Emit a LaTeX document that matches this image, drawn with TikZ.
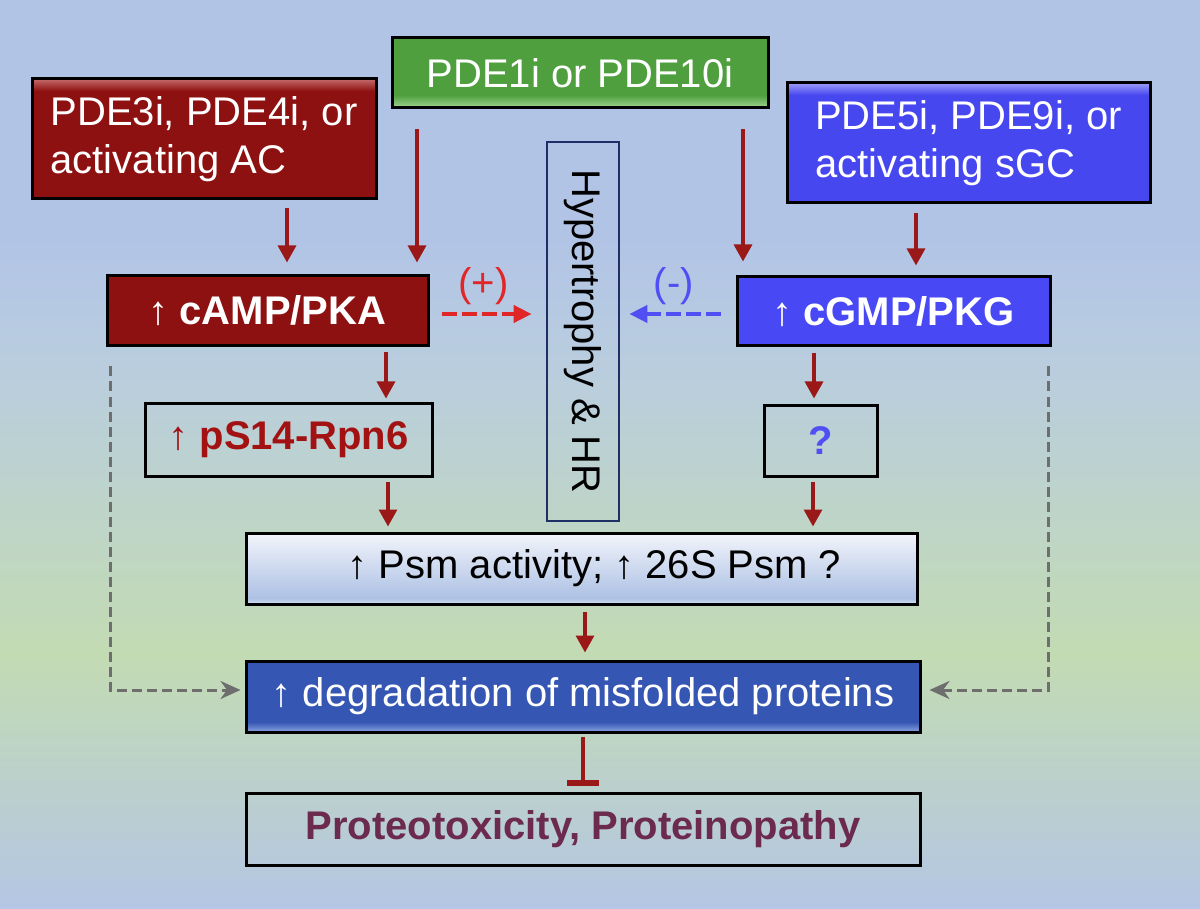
\documentclass[tikz,border=0pt]{standalone}
\usepackage{fontspec}
\usepackage{graphicx}
\setmainfont{Liberation Sans}
\usetikzlibrary{arrows.meta,positioning}

\definecolor{bgtop}{HTML}{B2C4E6}
\definecolor{bgmid}{HTML}{B9CDDF}
\definecolor{bggreen}{HTML}{C3DBB3}
\definecolor{bgbot}{HTML}{B4C6E4}
\definecolor{drugred}{HTML}{8E1111}
\definecolor{drugredhi}{HTML}{C46A6A}
\definecolor{druggreen}{HTML}{4F9F3F}
\definecolor{druggreenhi}{HTML}{A6D696}
\definecolor{drugblue}{HTML}{4747F0}
\definecolor{drugbluehi}{HTML}{9C9CF9}
\definecolor{pkgblue}{HTML}{4848F4}
\definecolor{arrred}{HTML}{9A1818}
\definecolor{plusred}{HTML}{E02626}
\definecolor{minusblue}{HTML}{4F4FF4}
\definecolor{psmtop}{HTML}{F2F4FB}
\definecolor{psmbot}{HTML}{ADC1E4}
\definecolor{psmedge}{HTML}{D6E1F1}
\definecolor{degblue}{HTML}{3556B3}
\definecolor{degbluehi}{HTML}{8AA3E1}
\definecolor{hypnavy}{HTML}{1F2F66}
\definecolor{protpurple}{HTML}{6B2A4E}
\definecolor{dashgray}{HTML}{6E6E6E}
\definecolor{rpnred}{HTML}{A31212}

\pgfdeclareverticalshading{bgshade}{100bp}{color(0bp)=(bgbot); color(25bp)=(bgbot); color(39bp)=(bggreen); color(55bp)=(bgmid); color(62bp)=(bgtop); color(100bp)=(bgtop)}
\pgfdeclareverticalshading{redgloss}{100bp}{color(0bp)=(drugred); color(70bp)=(drugred); color(75bp)=(drugredhi); color(100bp)=(drugredhi)}
\pgfdeclareverticalshading{bluegloss}{100bp}{color(0bp)=(drugblue); color(70bp)=(drugblue); color(75bp)=(drugbluehi); color(100bp)=(drugbluehi)}
\pgfdeclareverticalshading{greengloss}{100bp}{color(0bp)=(druggreenhi); color(25bp)=(druggreenhi); color(34bp)=(druggreen); color(100bp)=(druggreen)}
\pgfdeclareverticalshading{psmshade}{100bp}{color(0bp)=(psmedge); color(25bp)=(psmedge); color(29bp)=(psmbot); color(75bp)=(psmtop); color(100bp)=(psmtop)}
\pgfdeclareverticalshading{degshade}{100bp}{color(0bp)=(degbluehi); color(25bp)=(degbluehi); color(32bp)=(degblue); color(100bp)=(degblue)}

\tikzstyle{box}=[draw=black, line width=1.5pt, inner sep=0pt, font=\fontsize{20}{24}\selectfont]
\tikzstyle{boldbox}=[box, font=\fontsize{20}{24}\selectfont\bfseries]
\tikzstyle{drug}=[box, text=white, align=left]
\tikzstyle{hypbox}=[draw=hypnavy, line width=1.4pt, inner sep=0pt, font=\fontsize{20}{24}\selectfont]
\tikzset{%
    arr/.style={draw=arrred, line width=1.6pt, -{Triangle[length=8.5pt,width=9pt]}},
    plusarr/.style={draw=plusred, line width=2pt, dash pattern=on 7.5pt off 2.5pt, -{Triangle[length=9pt,width=8.5pt]}},
    minusarr/.style={plusarr, draw=minusblue},
    grayarr/.style={draw=dashgray, line width=1.5pt, dash pattern=on 5pt off 2.5pt, -{Stealth[length=10pt,width=9pt]}},
    inhib/.style={draw=arrred, line width=1.6pt, -{Bar[width=16pt,line width=3pt]}},
    sign/.style={inner sep=0pt, font=\fontsize{20}{24}\selectfont},
  }

\begin{document}
\begin{tikzpicture}[x=0.5pt, y=-0.5pt]
    \shade[shading=bgshade] (0,0) rectangle (1200,909);
    \useasboundingbox (0,0) rectangle (1200,909);
    % drugs
    \node (pde34) [drug, shading=redgloss, minimum width=172pt, minimum height=60pt] at (204,139) {PDE3i, PDE4i, or\\activating AC};
    \node (pde110) [drug, shading=greengloss, minimum width=188pt, minimum height=35pt, align=center] at (580,73) {PDE1i or PDE10i};
    \node (pde59) [drug, shading=bluegloss, minimum width=181.5pt, minimum height=60pt] at (968.5,143) {PDE5i, PDE9i, or\\activating sGC};
    %
    \node (camp) [boldbox, fill=drugred, text=white, minimum width=160.5pt, minimum height=35pt] at (267.5,311) {↑ cAMP/PKA};
    \node (cgmp) [boldbox, fill=pkgblue, text=white, minimum width=156.5pt, minimum height=34.5pt] at (893.5,311.5) {↑ cGMP/PKG};
    \node (hyp) [hypbox, minimum width=36pt, minimum height=189.5pt] at (583,331.5) {\rotatebox{-90}{Hypertrophy \& HR}};
    \node (rpn6) [boldbox, text=rpnred, minimum width=143.5pt, minimum height=36.5pt] at (288.5,439.5) {↑ pS14-Rpn6};
    \node (unk) [boldbox, text=minusblue, minimum width=56.5pt, minimum height=35.5pt] at (820.5,440.5) {?};
    \node (psm) [box, shading=psmshade, minimum width=335.5pt, minimum height=35.5pt] at (581.5,568.5) {\hspace*{13pt}↑ Psm activity; ↑ 26S Psm ?};
    \node (deg) [box, shading=degshade, text=white, minimum width=337pt, minimum height=35.5pt] at (583,696.5) {↑ degradation of misfolded proteins};
    \node (prot) [boldbox, text=protpurple, minimum width=337pt, minimum height=36pt] at (583,829) {Proteotoxicity, Proteinopathy};

    % arrows
    \draw [arr, shorten <=4pt, shorten >=6pt] ([xshift=41.5pt]pde34.south) -- ([xshift=9.75pt]camp.north);
    \draw [arr, shorten <=10pt, shorten >=6pt] ([xshift=-81.5pt]pde110.south) -- ([xshift=74.75pt]camp.north);
    \draw [arr, shorten <=10pt, shorten >=7pt] ([xshift=81.5pt]pde110.south) -- ([xshift=-75.25pt]cgmp.north);
    \draw [arr, shorten <=4.5pt, shorten >=5pt] ([xshift=-26.25pt]pde59.south) -- ([xshift=11.25pt]cgmp.north);
    \draw [arr, shorten <=2.5pt, shorten >=1.5pt] ([xshift=59.25pt]camp.south) -- ([xshift=48.75pt]rpn6.north);
    \draw [arr, shorten <=2pt, shorten >=2.5pt] ([xshift=49.75pt]rpn6.south) -- ([xshift=-96.75pt]psm.north);
    \draw [arr, shorten <=3pt, shorten >=2.5pt] ([xshift=-39.75pt]cgmp.south) -- ([xshift=-3.25pt]unk.north);
    \draw [arr, shorten <=2pt, shorten >=2.5pt] ([xshift=-3.75pt]unk.south) -- ([xshift=115.75pt]psm.north);
    \draw [arr, shorten <=3pt, shorten >=3.5pt] ([xshift=1.75pt]psm.south) -- ([xshift=1pt]deg.north);
    \draw [inhib, shorten <=1.5pt, shorten >=3pt] (deg.south) -- (prot.north);
    %
    \draw [plusarr, shorten <=6pt, shorten >=7pt] ([yshift=-1.5pt]camp.east) -- ([yshift=8.75pt]hyp.west)
    node (plus) [sign, text=plusred, midway, above=3.5pt, xshift=-2pt] {(+)};
    \draw [minusarr, shorten <=7.5pt, shorten >=4.5pt] ([yshift=-1.25pt]cgmp.west) -- ([yshift=8.75pt]hyp.east)
    node (minus) [sign, text=minusblue, midway, above=3.5pt, xshift=-2pt] {(-)};
    \draw [grayarr, shorten >=2pt] ([xshift=2.5pt,yshift=-9.5pt]camp.south west) |- ([yshift=3.25pt]deg.west);
    \draw [grayarr, shorten >=4pt] ([xshift=-1.5pt,yshift=-9.5pt]cgmp.south east) |- ([yshift=3.25pt]deg.east);
  \end{tikzpicture}
\end{document}
